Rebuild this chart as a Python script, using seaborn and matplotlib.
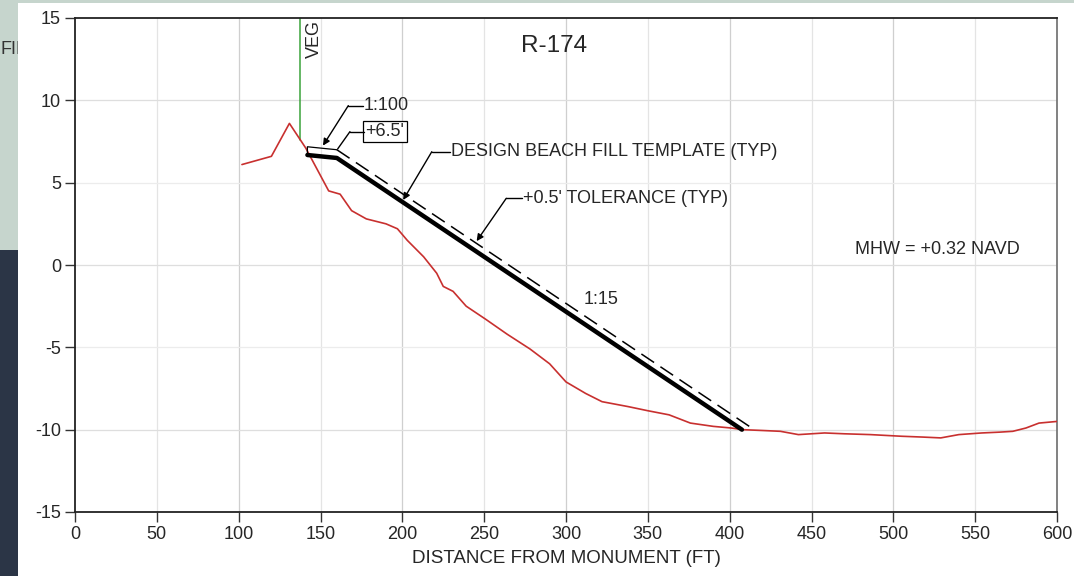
import matplotlib
matplotlib.use("Agg")
import matplotlib.pyplot as plt
import matplotlib.patches as mpatches
import seaborn as sns
import pandas as pd
import numpy as np

# ---- data ----
profile_x = [102, 120, 131, 141, 148, 155, 162, 169, 178, 190, 197, 203, 213, 221, 225, 231,
             239, 251, 264, 278, 290, 300, 312, 322, 338, 350, 363, 376, 390, 401, 408, 420,
             431, 442, 458, 470, 486, 505, 518, 529, 540, 554, 565, 573, 581, 589, 600]
profile_y = [6.1, 6.6, 8.6, 7.1, 5.8, 4.5, 4.3, 3.3, 2.8, 2.5, 2.2, 1.5, 0.5, -0.5, -1.3, -1.6,
             -2.5, -3.3, -4.2, -5.1, -6.0, -7.1, -7.8, -8.3, -8.6, -8.85, -9.1, -9.6, -9.8, -9.9, -10.0, -10.05,
             -10.1, -10.3, -10.2, -10.25, -10.3, -10.4, -10.45, -10.5, -10.3, -10.2, -10.15, -10.1, -9.9, -9.6, -9.5]
template_x = [142, 160, 407.5]
template_y = [6.68, 6.5, -10.0]
tol_berm_x = [142, 142, 160]
tol_berm_y = [6.68, 7.18, 7.0]
tol_slope_x = [160, 415]
tol_slope_y = [7.0, -10.0]
veg_x = 137.5
veg_y = [7.6, 15]
x_ticks = [0, 50, 100, 150, 200, 250, 300, 350, 400, 450, 500, 550, 600]
y_ticks = [-15, -10, -5, 0, 5, 10, 15]

sns.set_style("white")
plt.rcParams['font.family'] = ['Liberation Sans', 'DejaVu Sans']

fig = plt.figure(figsize=(10.74, 5.76), dpi=100)
# slide background pieces
fig.patches.append(mpatches.Rectangle((0, 1 - 3/576), 1, 3/576, transform=fig.transFigure,
                                      facecolor='#c6d5cd', edgecolor='none', zorder=-5))
fig.patches.append(mpatches.Rectangle((0, 1 - 250/576), 18/1074, 250/576, transform=fig.transFigure,
                                      facecolor='#c6d5cd', edgecolor='none', zorder=-5))
fig.patches.append(mpatches.Rectangle((0, 0), 18/1074, 1 - 250/576, transform=fig.transFigure,
                                      facecolor='#2b3546', edgecolor='none', zorder=-5))
fig.text(0, 1 - 50/576, "FIL", fontsize=13, color='#333333', va='center', ha='left', zorder=-4)
fig.patches.append(mpatches.Rectangle((18/1074, 0), 1 - 18/1074, 1 - 3/576, transform=fig.transFigure,
                                      facecolor='white', edgecolor='none', zorder=-3))

ax = fig.add_axes([75/1074, 1 - 512/576, (1057 - 75)/1074, (512 - 18)/576])

# grid
for xv in x_ticks[1:-1]:
    ax.axvline(xv, color='#cfcfcf' if xv % 100 == 0 else '#e4e4e4', lw=0.9, zorder=0)
for yv in y_ticks[1:-1]:
    ax.axhline(yv, color='#dedede' if yv % 10 == 0 else '#ececec', lw=0.9, zorder=0)

df_prof = pd.DataFrame({"x": profile_x, "y": profile_y})
sns.lineplot(data=df_prof, x="x", y="y", ax=ax, color='#c8302f', lw=1.2, sort=False,
             estimator=None, zorder=3)

df_tmp = pd.DataFrame({"x": template_x, "y": template_y})
sns.lineplot(data=df_tmp, x="x", y="y", ax=ax, color='black', lw=3.2, sort=False,
             estimator=None, zorder=4)
ax.plot(tol_berm_x, tol_berm_y, color='black', lw=0.9, zorder=4)
ax.plot(tol_slope_x, tol_slope_y, color='black', lw=1.1, dashes=(10, 5), zorder=4)

ax.plot([veg_x, veg_x], veg_y, color='#3aa33a', lw=1.1, zorder=2)
ax.text(146, 14.9, "VEG", rotation=90, fontsize=13, ha='center', va='top')

ax.text(293, 13.3, "R-174", fontsize=17.5, ha='center', va='center')

# annotations with leaders
def leader(pts, text, tx, ty, arrow=True, box=False):
    xs = [p[0] for p in pts]
    ys = [p[1] for p in pts]
    ax.plot(xs[:-1], ys[:-1], color='black', lw=1.0, zorder=5)
    if arrow:
        ax.annotate("", xy=pts[-1], xytext=pts[-2],
                    arrowprops=dict(arrowstyle='-|>', color='black', lw=1.0,
                                    mutation_scale=10, shrinkA=0, shrinkB=0), zorder=5)
    else:
        ax.plot(xs[-2:], ys[-2:], color='black', lw=1.0, zorder=5)
    kw = {}
    if box:
        kw['bbox'] = dict(boxstyle='square,pad=0.12', facecolor='white', edgecolor='black', lw=0.9)
    ax.text(tx, ty, text, fontsize=13, ha='left', va='center', **kw)

leader([(176, 9.68), (167, 9.68), (151.5, 7.25)], "1:100", 176.5, 9.68)
leader([(176.5, 8.1), (168, 8.1), (160.5, 7.05)], "+6.5'", 177.5, 8.1, arrow=False, box=True)
leader([(229, 6.88), (218, 6.88), (200.5, 3.95)], "DESIGN BEACH FILL TEMPLATE (TYP)", 229.5, 6.88)
leader([(273, 4.05), (263.5, 4.05), (245.4, 1.45)], "+0.5' TOLERANCE (TYP)", 273.5, 4.05)

ax.text(321.5, -2.1, "1:15", fontsize=13, ha='center', va='center')
ax.text(476.5, 0.95, "MHW = +0.32 NAVD", fontsize=13, ha='left', va='center')

ax.set_xlim(0, 600)
ax.set_ylim(-15, 15)
ax.set_xticks(x_ticks)
ax.set_yticks(y_ticks)
ax.set_xticklabels([str(v) for v in x_ticks])
ax.set_yticklabels([str(v) for v in y_ticks])
ax.tick_params(axis='both', direction='out', length=7, width=1.0, color='#333333',
               labelsize=13, pad=3, left=True, bottom=True)
ax.set_xlabel("DISTANCE FROM MONUMENT (FT)", fontsize=13.5, labelpad=5)
ax.set_ylabel("")
for s in ['left', 'bottom', 'top']:
    ax.spines[s].set_color('#222222')
    ax.spines[s].set_linewidth(1.3)
ax.spines['right'].set_color('#777777')
ax.spines['right'].set_linewidth(1.3)
ax.set_facecolor('white')

fig.savefig("out.png", dpi=100)
